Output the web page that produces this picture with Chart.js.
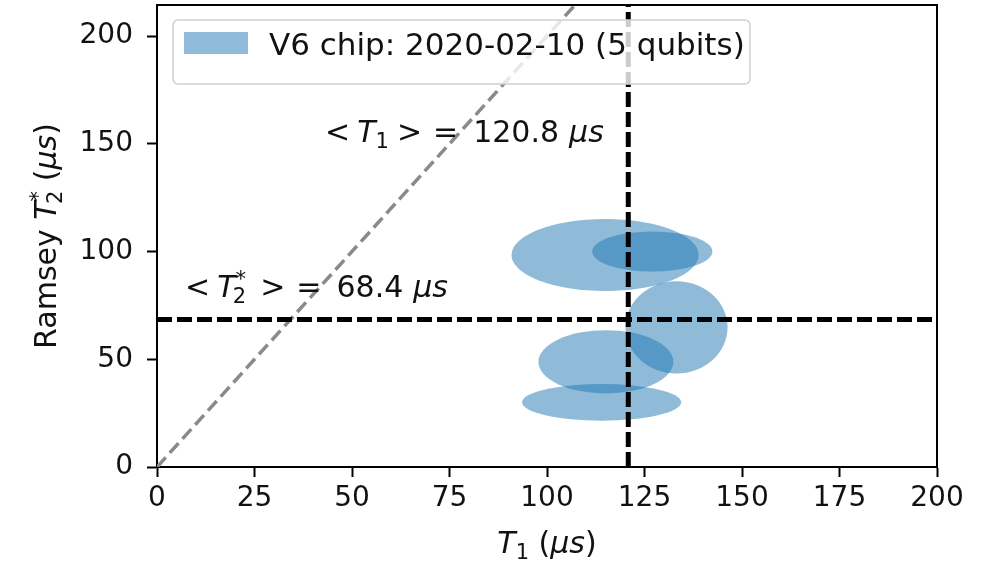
<!DOCTYPE html>
<html>
<head>
<meta charset="utf-8">
<script src="https://cdn.jsdelivr.net/npm/chart.js@4.4.1/dist/chart.umd.min.js"></script>
<style>
  html, body { margin: 0; padding: 0; background: #fff; }
  #wrap { width: 986px; height: 563px; }
</style>
</head>
<body>
<div id="wrap"><canvas id="chart" width="986" height="563"></canvas></div>
<script>
// Per-qubit coherence: centre of each ellipse and its half-extent (μs)
const qubits   = ['Q0', 'Q1', 'Q2', 'Q3', 'Q4'];
const t1Mean   = [114.9, 127.0, 133.2, 115.1, 114.0];
const t1Spread = [24.0, 15.4, 13.1, 17.3, 20.4];
const t2Mean   = [98.4, 100.0, 64.8, 48.8, 30.0];
const t2Spread = [16.7, 9.3, 21.4, 14.7, 8.5];

// Physical limit T2* = 2 T1, as two end points
const limitLine = [[0, 0], [120, 240]];

const xTicks = [0, 25, 50, 75, 100, 125, 150, 175, 200];
const yTicks = [0, 50, 100, 150, 200];
const xRange = [0, 200];
const yRange = [0, 214.4];

const legendLabel = 'V6 chip: 2020-02-10 (5 qubits)';

const avg = a => a.reduce((s, v) => s + v, 0) / a.length;
const meanT1 = avg(t1Mean);
const meanT2 = avg(t2Mean);

const FONT = '"DejaVu Sans", Verdana, sans-serif';
const INK = '#111';
const FILL = 'rgba(31,119,180,0.5)';

// Draw a run of text pieces (italic / sub / superscript / fixed gaps) on one baseline
function drawRich(ctx, pieces, x, y, size, align) {
  const fontOf = p => `${p.italic ? 'italic ' : ''}${Math.round(size * (p.scale || 1))}px ${FONT}`;
  let total = 0;
  const widths = pieces.map(p => {
    let w;
    if (p.gap !== undefined) w = p.gap * size / 30;
    else { ctx.font = fontOf(p); w = ctx.measureText(p.t).width + (p.kern || 0) * size; }
    total += w;
    return w;
  });
  let cx = align === 'center' ? x - total / 2 : x;
  ctx.textBaseline = 'alphabetic';
  ctx.textAlign = 'left';
  pieces.forEach((p, i) => {
    if (p.t !== undefined) {
      ctx.font = fontOf(p);
      ctx.fillText(p.t, cx, y + (p.dy || 0) * size);
    }
    cx += widths[i];
  });
  return total;
}

const ellipsePlugin = {
  id: 'qubitEllipses',
  beforeDatasetsDraw(chart) {
    const { ctx, chartArea: a, scales: { x, y } } = chart;
    ctx.save();
    ctx.beginPath();
    ctx.rect(a.left, a.top, a.right - a.left, a.bottom - a.top);
    ctx.clip();
    ctx.fillStyle = FILL;
    qubits.forEach((q, i) => {
      const cx = x.getPixelForValue(t1Mean[i]);
      const cy = y.getPixelForValue(t2Mean[i]);
      const rx = Math.abs(x.getPixelForValue(t1Mean[i] + t1Spread[i]) - cx);
      const ry = Math.abs(y.getPixelForValue(t2Mean[i] + t2Spread[i]) - cy);
      ctx.beginPath();
      ctx.ellipse(cx, cy, rx, ry, 0, 0, Math.PI * 2);
      ctx.fill();
    });
    ctx.restore();
  }
};

const decorPlugin = {
  id: 'decor',
  afterDatasetsDraw(chart) {
    const { ctx, scales: { x, y } } = chart;
    ctx.save();
    ctx.fillStyle = INK;
    // mean annotations
    drawRich(ctx, [
      { t: '<' }, { gap: 7 }, { t: 'T', italic: true }, { t: '1', scale: 0.7, dy: 0.2 },
      { gap: 8 }, { t: '>' }, { gap: 11 }, { t: '=' }, { gap: 15 },
      { t: meanT1.toFixed(1) }, { gap: 10 }, { t: 'μs', italic: true }
    ], x.getPixelForValue(43.1), y.getPixelForValue(150.8), 30, 'left');
    drawRich(ctx, [
      { t: '<' }, { gap: 7 }, { t: 'T', italic: true },
      { t: '*', scale: 0.7, dy: -0.38, kern: -0.44 }, { t: '2', scale: 0.7, dy: 0.2 },
      { gap: 14 }, { t: '>' }, { gap: 11 }, { t: '=' }, { gap: 15 },
      { t: meanT2.toFixed(1) }, { gap: 10 }, { t: 'μs', italic: true }
    ], x.getPixelForValue(7.2), y.getPixelForValue(78.9), 30, 'left');
    ctx.restore();
  },
  afterDraw(chart) {
    const { ctx, chartArea: a } = chart;
    ctx.save();
    // top and right spines
    ctx.strokeStyle = '#000';
    ctx.lineWidth = 2;
    ctx.beginPath();
    ctx.moveTo(a.left, a.top); ctx.lineTo(a.right, a.top); ctx.lineTo(a.right, a.bottom);
    ctx.stroke();

    // legend box inside the axes
    const bx = 173, by = 20, bw = 577, bh = 64, r = 5;
    ctx.beginPath();
    ctx.roundRect(bx, by, bw, bh, r);
    ctx.fillStyle = 'rgba(255,255,255,0.8)';
    ctx.fill();
    ctx.strokeStyle = '#d0d0d0';
    ctx.lineWidth = 1.5;
    ctx.stroke();
    ctx.fillStyle = FILL;
    ctx.fillRect(184, 32, 64, 22);
    ctx.fillStyle = INK;
    ctx.font = `31px ${FONT}`;
    ctx.textAlign = 'left';
    ctx.textBaseline = 'alphabetic';
    ctx.fillText(legendLabel, 269, 55);

    // axis titles
    const midX = (a.left + a.right) / 2;
    drawRich(ctx, [
      { t: 'T', italic: true }, { t: '1', scale: 0.7, dy: 0.2 }, { t: ' (' }, { t: 'μs', italic: true }, { t: ')' }
    ], midX, 553, 30, 'center');
    const midY = (a.top + a.bottom) / 2;
    ctx.translate(56, midY);
    ctx.rotate(-Math.PI / 2);
    drawRich(ctx, [
      { t: 'Ramsey ' }, { t: 'T', italic: true },
      { t: '*', scale: 0.7, dy: -0.38, kern: -0.44 }, { t: '2', scale: 0.7, dy: 0.2 },
      { t: ' (' }, { t: 'μs', italic: true }, { t: ')' }
    ], 0, 0, 30, 'center');
    ctx.restore();
  }
};

const tickFont = { family: FONT, size: 28 };
const noEdgePadding = s => { s.paddingTop = 0; s.paddingBottom = 0; s.paddingLeft = 0; s.paddingRight = 0; };

new Chart(document.getElementById('chart'), {
  type: 'scatter',
  data: {
    datasets: [
      {
        label: 'mean T1',
        data: [{ x: meanT1, y: yRange[0] }, { x: meanT1, y: yRange[1] }],
        showLine: true, borderColor: '#000', borderWidth: 5, borderDash: [15, 5],
        pointRadius: 0, order: 1
      },
      {
        label: 'mean T2',
        data: [{ x: xRange[0], y: meanT2 }, { x: xRange[1], y: meanT2 }],
        showLine: true, borderColor: '#000', borderWidth: 5, borderDash: [15, 5],
        pointRadius: 0, order: 2
      },
      {
        label: 'T2 = 2 T1',
        data: limitLine.map(([px, py]) => ({ x: px, y: py })),
        showLine: true, borderColor: '#8a8a8a', borderWidth: 3.5, borderDash: [13, 6],
        pointRadius: 0, order: 3
      }
    ]
  },
  options: {
    responsive: false,
    animation: false,
    devicePixelRatio: 1,
    layout: { padding: { top: 5, right: 49, left: 0, bottom: 0 } },
    plugins: { legend: { display: false }, tooltip: { enabled: false } },
    scales: {
      x: {
        type: 'linear', min: xRange[0], max: xRange[1],
        afterFit: s => { s.height = 96; noEdgePadding(s); },
        afterBuildTicks: s => { s.ticks = xTicks.map(v => ({ value: v })); },
        ticks: { font: tickFont, color: INK, padding: 5, autoSkip: false, maxRotation: 0, includeBounds: false },
        grid: { drawOnChartArea: false, drawTicks: true, tickLength: 10, tickWidth: 2, tickColor: '#000' },
        border: { display: true, color: '#000', width: 2 }
      },
      y: {
        type: 'linear', min: yRange[0], max: yRange[1],
        afterFit: s => { s.width = 157; noEdgePadding(s); },
        afterBuildTicks: s => { s.ticks = yTicks.map(v => ({ value: v })); },
        ticks: { font: tickFont, color: INK, padding: 14, autoSkip: false, includeBounds: false },
        grid: { drawOnChartArea: false, drawTicks: true, tickLength: 10, tickWidth: 2, tickColor: '#000' },
        border: { display: true, color: '#000', width: 2 }
      }
    }
  },
  plugins: [ellipsePlugin, decorPlugin]
});
</script>
</body>
</html>
